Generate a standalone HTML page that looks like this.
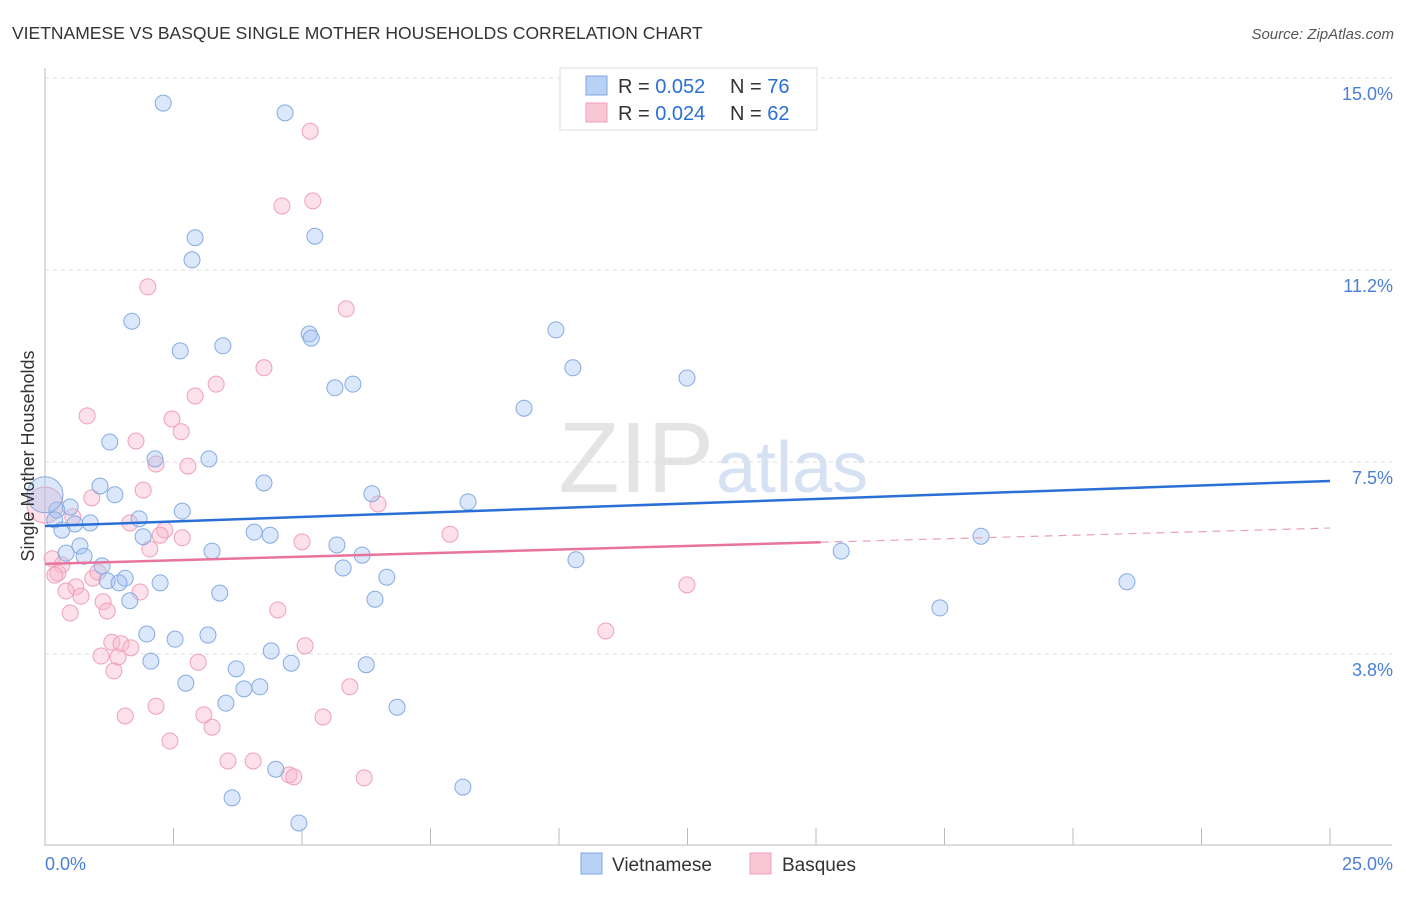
<!DOCTYPE html>
<html><head><meta charset="utf-8"><style>
body{margin:0;background:#fff;font-family:"Liberation Sans",sans-serif;}
svg text{font-family:"Liberation Sans",sans-serif;}
</style></head><body>
<svg id="chart" width="1406" height="892" xmlns="http://www.w3.org/2000/svg">
<text x="12" y="39" font-size="17.5" fill="#333">VIETNAMESE VS BASQUE SINGLE MOTHER HOUSEHOLDS CORRELATION CHART</text>
<text x="1394" y="39" font-size="15" fill="#555" font-style="italic" text-anchor="end">Source: ZipAtlas.com</text>
<text x="714" y="492" font-size="100" fill="#e4e4e4" text-anchor="end" font-family="Liberation Serif">ZIP</text>
<text x="716" y="492" font-size="72" fill="#d6e2f4">atlas</text>
<g id="grid"></g><g id="axes"></g><g id="pts"></g><g id="trend"></g>
<text transform="translate(34,456) rotate(-90)" font-size="18" fill="#333" text-anchor="middle">Single Mother Households</text>
<g>
<rect x="560" y="68" width="257" height="62" fill="#fff" stroke="#ddd"/>
<rect x="586" y="76" width="21" height="19" fill="#b9d1f5" stroke="#7ea6e0"/>
<rect x="586" y="103" width="21" height="19" fill="#f9c6d6" stroke="#f0a0b8"/>
<text x="618" y="93" font-size="20" fill="#333">R = <tspan fill="#2a6fd6">0.052</tspan></text>
<text x="730" y="93" font-size="20" fill="#333">N = <tspan fill="#2a6fd6">76</tspan></text>
<text x="618" y="120" font-size="20" fill="#333">R = <tspan fill="#2a6fd6">0.024</tspan></text>
<text x="730" y="120" font-size="20" fill="#333">N = <tspan fill="#2a6fd6">62</tspan></text>
</g>
<g>
<rect x="581" y="853" width="21" height="21" fill="#b9d1f5" stroke="#7ea6e0"/>
<text x="612" y="871" font-size="19" fill="#333">Vietnamese</text>
<rect x="750" y="853" width="21" height="21" fill="#f9c6d6" stroke="#f0a0b8"/>
<text x="782" y="871" font-size="19" fill="#333">Basques</text>
</g>
</svg>
<script>
const yTicks=[3.75,7.5,11.25,15];
const yTickLabels=["3.8%","7.5%","11.2%","15.0%"];
const xTickLabels=["0.0%","25.0%"];
const blueX=[2.30,4.67,2.92,5.25,2.86,1.69,5.14,5.18,9.94,2.63,3.46,10.27,12.49,5.64,5.99,9.32,1.26,2.14,3.19,4.26,1.07,1.36,6.36,8.23,2.67,0.49,0.23,0,0.19,0.33,0.58,0.88,1.83,1.91,4.07,4.38,5.68,0.68,0.41,0.76,3.25,6.17,15.49,18.21,10.33,1.11,1.56,1.21,1.44,2.24,6.65,5.80,21.05,3.40,1.65,6.42,17.41,1.98,2.53,3.17,2.06,4.40,4.79,6.25,3.72,2.74,3.87,4.18,3.52,6.85,4.49,8.13,3.64,4.94];
const blueY=[14.51,14.32,11.88,11.91,11.45,10.25,10.00,9.92,10.08,9.67,9.77,9.34,9.14,8.95,9.02,8.55,7.89,7.56,7.56,7.09,7.03,6.86,6.88,6.72,6.54,6.62,6.56,6.86,6.37,6.17,6.29,6.31,6.39,6.04,6.13,6.07,5.88,5.86,5.72,5.66,5.76,5.68,5.76,6.05,5.59,5.47,5.23,5.18,5.14,5.14,5.25,5.43,5.16,4.94,4.79,4.82,4.65,4.14,4.04,4.12,3.61,3.81,3.57,3.54,3.46,3.18,3.07,3.11,2.79,2.71,1.50,1.15,0.94,0.45];
const pinkX=[5.16,4.61,5.21,2.00,5.86,4.26,3.33,2.92,0.82,2.47,1.77,2.65,2.78,2.16,1.91,0.91,0.54,0,1.65,2.33,2.67,2.24,2.04,5.00,7.88,6.48,0.14,0.33,0.25,0.19,0.93,1.03,0.60,0.41,0.70,1.85,1.13,1.21,0.49,12.49,4.53,10.91,1.30,1.48,1.67,1.09,1.42,2.98,5.06,1.34,5.93,1.56,2.16,3.09,3.25,5.41,2.43,3.56,4.05,4.75,4.84,6.21];
const pinkY=[13.96,12.50,12.60,10.92,10.49,9.34,9.02,8.79,8.40,8.34,7.91,8.09,7.42,7.46,6.95,6.80,6.43,6.66,6.31,6.17,6.02,6.07,5.80,5.94,6.09,6.68,5.61,5.49,5.33,5.29,5.23,5.35,5.06,4.98,4.88,4.96,4.77,4.59,4.55,5.10,4.61,4.20,3.98,3.95,3.87,3.71,3.69,3.59,3.91,3.42,3.11,2.54,2.73,2.56,2.32,2.52,2.05,1.66,1.66,1.39,1.35,1.33];
const blueTrend=[6.25,7.13];
const pinkTrend=[5.51,6.21];
const pinkSolidEnd=15.09;
const NS="http://www.w3.org/2000/svg";
const X=v=>45+v*51.4, Y=v=>846-v*51.2;
function mk(tag,attrs,parent){const e=document.createElementNS(NS,tag);for(const k in attrs)e.setAttribute(k,attrs[k]);document.getElementById(parent).appendChild(e);return e;}
yTicks.forEach((t,i)=>{
 const g=mk('line',{x1:45,x2:1392,y1:Y(t),y2:Y(t),stroke:'#ddd','stroke-dasharray':'4,4'},'grid');
 
 
 const l=mk('text',{x:1393,y:Y(t)+22,'font-size':18,fill:'#4a7fd8','text-anchor':'end'},'grid');
 l.textContent=yTickLabels[i];
 
 
});
mk('line',{x1:45,x2:45,y1:68,y2:846,stroke:'#bbb'},'axes');
mk('line',{x1:45,x2:1392,y1:845,y2:845,stroke:'#bbb'},'axes');
for(let i=0;i<=10;i++){const t=mk('line',{x1:X(i*2.5),x2:X(i*2.5),y1:828,y2:845,stroke:'#bbb'},'axes');
 
 }
const xl0=mk('text',{x:45,y:870,'font-size':18,fill:'#4a7fd8'},'axes');xl0.textContent=xTickLabels[0];


const xl1=mk('text',{x:1393,y:870,'font-size':18,fill:'#4a7fd8','text-anchor':'end'},'axes');xl1.textContent=xTickLabels[1];


function pts(xs,ys,fill,stroke,name){xs.forEach((x,i)=>{
 const r=(i===27&&name==='vietnamese-point')||(i===17&&name==='basques-point')?18:8;
 const c=mk('circle',{cx:X(x),cy:Y(ys[i]),r:r,fill:fill,stroke:stroke,'stroke-width':1},'pts');
 
 });}
pts(pinkX,pinkY,'rgba(248,180,202,0.4)','#f0a0b8','basques-point');
pts(blueX,blueY,'rgba(165,195,242,0.4)','#86abe2','vietnamese-point');
const bl=mk('line',{x1:X(0),y1:Y(blueTrend[0]),x2:X(25),y2:Y(blueTrend[1]),stroke:'#2a6fd6','stroke-width':2.5},'trend');


const pm=pinkTrend[0]+(pinkTrend[1]-pinkTrend[0])*pinkSolidEnd/25;
const pl=mk('line',{x1:X(0),y1:Y(pinkTrend[0]),x2:X(pinkSolidEnd),y2:Y(pm),stroke:'#e8739c','stroke-width':2.5},'trend');


const pd=mk('line',{x1:X(pinkSolidEnd),y1:Y(pm),x2:X(25),y2:Y(pinkTrend[1]),stroke:'#e8a0b8','stroke-width':1.2,'stroke-dasharray':'8,6'},'trend');


</script>
</body></html>
